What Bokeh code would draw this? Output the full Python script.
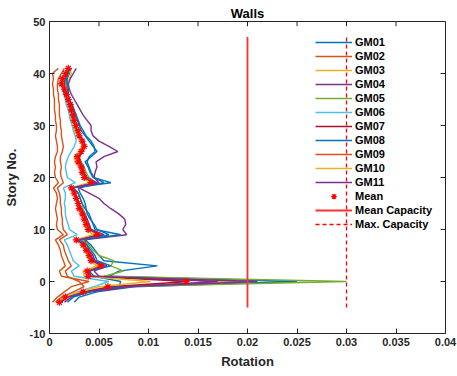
from bokeh.plotting import figure
from bokeh.models import Range1d, FixedTicker, Legend
from bokeh.embed import file_html
from bokeh.resources import INLINE

stories = list(range(-4, 42))

gm01 = [.0025, .0030, .0048, .0085, .0250, .0060, .0070, .0109, .0055, .0050, .0046, .0042, .0036, .0060,
        .0048, .0045, .0041, .0038, .0037, .0036, .0034, .0031, .0029, .0055, .0045, .0042, .0040, .0038,
        .0040, .0046, .0045, .0042, .0037, .0034, .0031, .0029, .0027, .0025, .0023, .0020, .0019, .0018,
        .0017, .0018, .0020, .0022]
gm02 = [.0003, .0008, .0015, .0022, .0040, .0012, .0010, .0016, .0014, .0012, .0011, .0009, .0006, .0014,
        .0008, .0007, .0008, .0007, .0006, .0007, .0008, .0007, .0004, .0009, .0006, .0005, .0006, .0005,
        .0006, .0008, .0008, .0007, .0006, .0007, .0007, .0006, .0006, .0005, .0005, .0005, .0004, .0004,
        .0003, .0004, .0003, .0009]
gm03 = [.0008, .0014, .0032, .0060, .0188, .0038, .0036, .0050, .0044, .0042, .0040, .0036, .0029, .0046,
        .0041, .0039, .0037, .0035, .0033, .0030, .0028, .0026, .0023, .0044, .0038, .0034, .0030, .0026,
        .0025, .0030, .0033, .0032, .0028, .0025, .0023, .0022, .0021, .0020, .0019, .0018, .0017, .0017,
        .0018, .0020, .0022, .0020]
gm04 = [.0015, .0022, .0042, .0080, .0170, .0050, .0045, .0058, .0046, .0044, .0040, .0038, .0035, .0078,
        .0074, .0077, .0076, .0070, .0062, .0055, .0050, .0040, .0030, .0050, .0045, .0046, .0048, .0047,
        .0055, .0069, .0060, .0050, .0044, .0042, .0042, .0038, .0034, .0031, .0028, .0025, .0022, .0020,
        .0019, .0021, .0024, .0027]
gm05 = [.0010, .0016, .0036, .0065, .0300, .0055, .0075, .0062, .0065, .0050, .0044, .0040, .0032, .0052,
        .0042, .0040, .0038, .0036, .0034, .0033, .0031, .0029, .0024, .0046, .0040, .0037, .0035, .0032,
        .0030, .0033, .0035, .0034, .0031, .0028, .0026, .0025, .0023, .0022, .0020, .0018, .0017, .0016,
        .0016, .0017, .0019, .0021]
gm06 = [.0012, .0015, .0028, .0045, .0060, .0025, .0022, .0030, .0024, .0022, .0020, .0018, .0015, .0028,
        .0020, .0019, .0017, .0016, .0016, .0015, .0016, .0016, .0014, .0026, .0018, .0017, .0016, .0017,
        .0019, .0022, .0025, .0027, .0026, .0024, .0023, .0021, .0020, .0019, .0017, .0016, .0015, .0014,
        .0014, .0015, .0017, .0018]
gm07 = [.0011, .0017, .0035, .0062, .0140, .0040, .0039, .0053, .0043, .0041, .0038, .0035, .0028, .0050,
        .0040, .0038, .0036, .0034, .0031, .0029, .0027, .0025, .0022, .0043, .0036, .0034, .0032, .0030,
        .0029, .0032, .0034, .0033, .0030, .0027, .0025, .0024, .0022, .0021, .0019, .0017, .0015, .0014,
        .0013, .0014, .0016, .0019]
gm08 = [.0018, .0024, .0040, .0070, .0072, .0045, .0040, .0062, .0048, .0046, .0042, .0038, .0030, .0072,
        .0046, .0044, .0042, .0040, .0036, .0033, .0031, .0029, .0024, .0062, .0044, .0041, .0039, .0036,
        .0042, .0048, .0044, .0040, .0036, .0032, .0030, .0028, .0026, .0024, .0022, .0020, .0019, .0019,
        .0018, .0017, .0018, .0021]
gm09 = [.0006, .0012, .0024, .0035, .0030, .0018, .0016, .0022, .0019, .0017, .0015, .0014, .0010, .0018,
        .0014, .0013, .0013, .0012, .0012, .0011, .0011, .0010, .0008, .0014, .0012, .0011, .0012, .0011,
        .0011, .0013, .0014, .0013, .0012, .0012, .0011, .0011, .0010, .0010, .0010, .0009, .0009, .0008,
        .0008, .0009, .0012, .0015]
gm10 = [.0009, .0015, .0030, .0050, .0102, .0035, .0034, .0048, .0040, .0038, .0036, .0033, .0026, .0044,
        .0037, .0035, .0034, .0032, .0030, .0028, .0026, .0024, .0021, .0040, .0034, .0032, .0031, .0028,
        .0027, .0031, .0033, .0032, .0029, .0026, .0024, .0023, .0022, .0021, .0019, .0017, .0016, .0015,
        .0014, .0015, .0017, .0019]
gm11 = [.0012, .0018, .0038, .0075, .0210, .0042, .0040, .0055, .0045, .0042, .0038, .0035, .0028, .0055,
        .0042, .0040, .0038, .0035, .0032, .0030, .0028, .0026, .0022, .0048, .0038, .0035, .0034, .0031,
        .0030, .0034, .0036, .0035, .0031, .0028, .0026, .0025, .0023, .0022, .0020, .0018, .0016, .0015,
        .0015, .0016, .0018, .0020]
mean = [.0010, .0016, .0034, .0059, .0138, .0039, .0038, .0052, .0042, .0040, .0037, .0034, .0027, .0048,
        .0039, .0037, .0035, .0033, .0030, .0029, .0027, .0025, .0022, .0042, .0035, .0033, .0032, .0029,
        .0028, .0032, .0035, .0033, .0030, .0029, .0027, .0025, .0024, .0022, .0021, .0019, .0017, .0015,
        .0012, .0013, .0016, .0019]

series_names = ["GM01", "GM02", "GM03", "GM04", "GM05", "GM06", "GM07", "GM08", "GM09", "GM10", "GM11"]
series_values = [gm01, gm02, gm03, gm04, gm05, gm06, gm07, gm08, gm09, gm10, gm11]
colors = ["#0072BD", "#D95319", "#EDB120", "#7E2F8E", "#77AC30", "#4DBEEE", "#A2142F",
          "#0072BD", "#D95319", "#EDB120", "#7E2F8E"]

mean_capacity = 0.02
max_capacity = 0.03
capacity_story_span = [-5, 47]

x_ticks = [0, 0.005, 0.01, 0.015, 0.02, 0.025, 0.03, 0.035, 0.04]
x_tick_labels = ["0", "0.005", "0.01", "0.015", "0.02", "0.025", "0.03", "0.035", "0.04"]
y_ticks = [-10, 0, 10, 20, 30, 40, 50]
y_tick_labels = ["-10", "0", "10", "20", "30", "40", "50"]

FONT = "Liberation Sans"
AX = "#262626"

p = figure(width=457, height=376, output_backend="svg", toolbar_location=None,
           x_range=Range1d(0, 0.04), y_range=Range1d(-10, 50),
           min_border_left=48, min_border_right=12, min_border_top=21, min_border_bottom=43,
           title="Walls")
p.title.align = "center"
p.title.text_font = FONT
p.title.text_font_size = "13px"
p.title.text_font_style = "bold"
p.title.text_color = "#000000"
p.title.standoff = 2
p.title.offset = 0

p.xgrid.visible = False
p.ygrid.visible = False
p.outline_line_color = AX
p.outline_line_alpha = 1
p.background_fill_color = "white"
p.border_fill_color = "white"

for ax, ticks, labels in ((p.xaxis[0], x_ticks, x_tick_labels), (p.yaxis[0], y_ticks, y_tick_labels)):
    ax.ticker = FixedTicker(ticks=ticks)
    ax.major_label_overrides = {t: l for t, l in zip(ticks, labels)}
    ax.major_tick_in = 5
    ax.major_tick_out = 0
    ax.minor_tick_in = 0
    ax.minor_tick_out = 0
    ax.axis_line_color = AX
    ax.major_tick_line_color = AX
    ax.major_label_text_font = FONT
    ax.major_label_text_font_size = "11px"
    ax.major_label_text_font_style = "bold"
    ax.major_label_text_color = AX
    ax.axis_label_text_font = FONT
    ax.axis_label_text_font_size = "13px"
    ax.axis_label_text_font_style = "bold"
    ax.axis_label_text_color = AX
    ax.major_label_standoff = 4

p.xaxis.axis_label = "Rotation"
p.yaxis.axis_label = "Story No."
p.xaxis.axis_label_standoff = 5
p.yaxis.axis_label_standoff = 8

# box ticks on top and right (inward), derived from tick arrays
p.segment(x0=x_ticks, y0=[50] * len(x_ticks), x1=x_ticks, y1=[50 - 0.9] * len(x_ticks),
          line_color=AX, line_width=1)
p.segment(x0=[0.04] * len(y_ticks), y0=y_ticks, x1=[0.04 - 0.0005] * len(y_ticks), y1=y_ticks,
          line_color=AX, line_width=1)

items = []
for name, vals, c in zip(series_names, series_values, colors):
    r = p.line(x=vals, y=stories, line_color=c, line_width=1.4)
    items.append((name, [r]))

rm = p.scatter(x=mean, y=stories, marker="asterisk", size=7, line_color="#FF0000", line_width=1.2)
items.append(("Mean", [rm]))

rc = p.line(x=[mean_capacity, mean_capacity], y=capacity_story_span, line_color="#FF3030", line_width=1.8)
items.append(("Mean Capacity", [rc]))
rx = p.line(x=[max_capacity, max_capacity], y=capacity_story_span, line_color="#FF0000", line_width=1.3,
            line_dash="4 3")
items.append(("Max. Capacity", [rx]))

legend = Legend(items=items, location=(266, 102), padding=0, margin=0, spacing=0,
                glyph_width=37, glyph_height=14, label_height=14, label_standoff=3,
                background_fill_alpha=0, border_line_alpha=0,
                label_text_font=FONT, label_text_font_size="11px", label_text_font_style="bold",
                label_text_color="#000000")
p.add_layout(legend)

open("out.html", "w").write(file_html(p, INLINE))
